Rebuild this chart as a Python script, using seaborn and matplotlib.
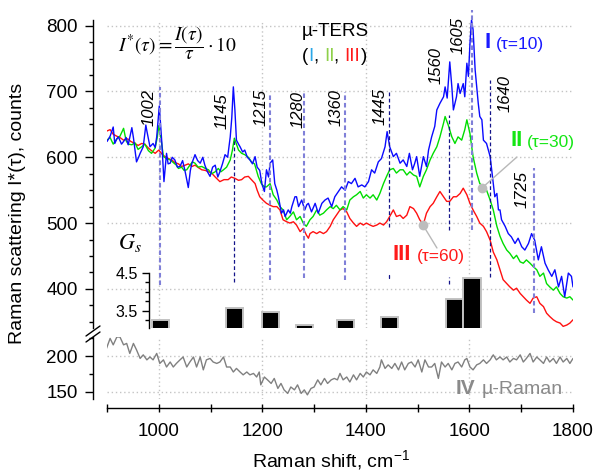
import matplotlib
matplotlib.use('Agg')
import matplotlib.pyplot as plt
import seaborn as sns
import pandas as pd
from matplotlib.lines import Line2D
from matplotlib.ticker import MultipleLocator

# ---------------- data ----------------
blue_I = [(900,624),(906,632),(909,639),(912,646),(915,621),(919,628),(922,631),(928,620),(932,624),(937,630),
          (941,619),(948,645),(951,630),(957,593),(961,600),(964,606),(970,616),(975,649),(977,640),(983,616),
          (989,621),(993,615),(996,631),(1001,678),(1006,621),(1010,563),(1015,606),(1018,590),(1022,591),(1026,600),
          (1031,596),(1036,585),(1041,586),(1046,595),(1051,578),(1057,554),(1061,580),(1064,591),(1070,604),(1075,595),
          (1080,591),(1085,600),(1089,588),(1094,578),(1099,571),(1104,585),(1109,588),(1114,570),(1118,578),(1123,590),
          (1128,604),(1133,600),(1138,631),(1141,660),(1144,707),(1147,672),(1150,626),(1154,620),(1157,616),(1162,608),
          (1166,611),(1171,600),(1176,596),(1181,590),(1186,601),(1190,585),(1195,580),(1199,560),(1204,548),(1208,581),
          (1212,570),(1215,591),(1220,596),(1224,560),(1228,550),(1231,540),(1237,515),(1241,520),(1244,510),(1250,520),
          (1254,515),(1257,525),(1263,540),(1266,540),(1270,525),(1276,535),(1282,520),(1286,528),(1289,530),(1295,517),
          (1302,530),(1308,515),(1315,530),(1321,535),(1327,538),(1334,525),(1340,540),(1347,548),(1353,555),(1360,550),
          (1366,563),(1372,560),(1379,568),(1385,555),(1392,558),(1398,555),(1405,563),(1411,581),(1417,576),(1424,593),
          (1430,598),(1437,616),(1441,639),(1446,616),(1453,601),(1459,606),(1466,591),(1472,596),(1479,586),(1484,606),
          (1490,581),(1494,590),(1498,601),(1504,571),(1511,601),(1517,586),(1521,611),(1527,631),(1533,647),(1537,672),
          (1543,682),(1550,692),(1553,707),(1557,690),(1562,745),(1566,707),(1569,672),(1575,692),(1578,712),(1582,697),
          (1588,712),(1591,692),(1595,743),(1598,723),(1601,773),(1604,809),(1607,794),(1611,733),(1614,707),(1617,682),
          (1620,662),(1624,657),(1627,626),(1633,621),(1640,601),(1643,581),(1646,560),(1649,540),(1653,545),(1656,520),
          (1659,520),(1662,505),(1669,495),(1675,484),(1681,479),(1688,469),(1694,477),(1701,464),(1707,459),(1714,469),
          (1720,484),(1726,474),(1733,444),(1739,464),(1746,439),(1752,429),(1759,419),(1765,429),(1772,403),(1778,419),
          (1784,388),(1791,424),(1797,419),(1800,403)]

green_II = [(900,626),(906,630),(912,620),(919,628),(925,632),(932,644),(937,625),(941,620),(948,619),(954,622),
            (960,612),(967,616),(973,620),(980,610),(986,606),(993,614),(997,630),(1000,648),(1004,630),(1009,601),
            (1015,598),(1022,596),(1028,592),(1034,588),(1038,583),(1044,585),(1049,580),(1054,581),(1060,588),(1065,593),
            (1070,591),(1076,585),(1083,586),(1090,583),(1096,581),(1102,575),(1109,578),(1115,583),(1120,578),(1125,581),
            (1131,585),(1138,596),(1142,610),(1146,629),(1150,620),(1154,611),(1160,606),(1166,604),(1173,600),(1179,593),
            (1185,590),(1192,571),(1198,560),(1204,555),(1208,555),(1215,560),(1221,543),(1228,535),(1234,525),(1240,520),
            (1247,505),(1253,510),(1260,517),(1266,505),(1273,510),(1279,500),(1285,495),(1292,505),(1298,510),(1305,520),
            (1311,512),(1318,515),(1324,520),(1331,525),(1337,522),(1343,527),(1350,520),(1356,525),(1363,520),(1369,535),
            (1376,540),(1382,543),(1389,548),(1395,538),(1401,543),(1408,538),(1414,543),(1421,535),(1427,545),(1434,560),
            (1440,571),(1446,581),(1453,583),(1459,576),(1466,581),(1472,581),(1479,573),(1485,578),(1492,573),(1498,571),
            (1504,555),(1511,571),(1517,581),(1524,596),(1530,606),(1537,616),(1543,631),(1550,652),(1553,662),(1559,649),
            (1566,631),(1572,621),(1578,631),(1585,626),(1591,642),(1595,657),(1601,636),(1607,601),(1614,576),(1620,560),
            (1627,555),(1633,550),(1640,535),(1646,520),(1653,495),(1659,480),(1665,469),(1672,459),(1678,454),(1685,446),
            (1691,451),(1698,441),(1704,439),(1710,444),(1717,439),(1723,434),(1730,429),(1736,419),(1743,424),(1749,408),
            (1755,403),(1762,398),(1768,403),(1775,393),(1781,388),(1788,386),(1794,388),(1800,383)]

red_III = [(900,640),(906,642),(912,635),(919,632),(925,630),(932,626),(940,628),(946,624),(954,621),(960,618),
           (967,621),(973,620),(980,614),(986,610),(993,606),(1000,611),(1006,605),(1012,601),(1019,598),(1025,596),
           (1031,592),(1038,590),(1044,586),(1051,588),(1057,590),(1064,586),(1070,588),(1077,584),(1083,581),(1090,580),
           (1096,578),(1102,576),(1109,570),(1118,563),(1126,566),(1134,566),(1140,570),(1147,568),(1154,565),(1160,566),
           (1166,570),(1173,571),(1180,565),(1186,560),(1190,550),(1195,540),(1201,535),(1208,530),(1215,527),(1221,525),
           (1228,525),(1234,520),(1240,505),(1247,502),(1253,500),(1260,502),(1266,497),(1273,487),(1279,492),(1285,482),
           (1289,477),(1292,484),(1298,487),(1305,484),(1311,487),(1318,484),(1324,487),(1331,495),(1337,505),(1343,512),
           (1350,520),(1356,522),(1363,517),(1369,507),(1376,500),(1382,495),(1389,500),(1395,497),(1401,500),(1408,497),
           (1414,495),(1421,497),(1427,500),(1434,497),(1440,502),(1446,510),(1453,520),(1459,510),(1466,512),(1472,507),
           (1479,512),(1485,525),(1492,522),(1498,515),(1504,505),(1511,498),(1517,515),(1524,525),(1530,530),(1537,540),
           (1543,548),(1550,540),(1556,533),(1562,533),(1569,540),(1575,540),(1582,545),(1588,553),(1595,543),(1601,530),
           (1607,520),(1614,510),(1620,500),(1627,495),(1633,487),(1640,474),(1646,456),(1653,444),(1659,429),(1665,414),
           (1672,408),(1678,403),(1685,398),(1691,401),(1698,393),(1704,388),(1710,383),(1717,378),(1723,386),(1730,388),
           (1736,378),(1743,373),(1749,363),(1755,358),(1762,353),(1768,350),(1775,348),(1781,343),(1788,345),(1794,348),
           (1800,353)]

gray_IV = [(899,211),(906,225),(912,216),(919,227),(925,227),(932,216),(938,218),(944,204),(951,218),(957,209),
           (964,197),(970,202),(977,195),(983,199),(989,195),(996,204),(1002,190),(1009,195),(1015,185),(1022,192),
           (1028,185),(1034,190),(1041,195),(1047,199),(1054,185),(1060,192),(1067,199),(1073,185),(1080,199),(1086,181),
           (1092,195),(1099,197),(1105,192),(1112,190),(1118,192),(1125,199),(1131,185),(1138,185),(1144,178),(1150,183),
           (1157,178),(1163,174),(1170,178),(1176,174),(1183,176),(1189,171),(1194,178),(1197,160),(1204,171),(1210,167),
           (1217,162),(1223,169),(1230,155),(1236,162),(1242,153),(1249,148),(1255,157),(1262,153),(1268,160),(1275,148),
           (1281,153),(1287,146),(1294,155),(1300,157),(1307,167),(1313,160),(1320,169),(1326,162),(1333,167),(1339,169),
           (1345,167),(1350,176),(1356,167),(1363,171),(1369,164),(1376,174),(1382,167),(1389,176),(1395,171),(1401,178),
           (1408,174),(1414,181),(1421,176),(1427,185),(1430,195),(1437,183),(1443,188),(1450,183),(1456,190),(1463,181),
           (1469,192),(1475,181),(1482,190),(1488,192),(1495,185),(1501,195),(1508,178),(1514,195),(1521,185),(1527,185),
           (1533,190),(1540,169),(1546,192),(1553,185),(1559,190),(1566,181),(1572,190),(1578,192),(1585,185),(1591,195),
           (1595,197),(1601,185),(1607,181),(1614,188),(1620,190),(1627,195),(1633,190),(1640,195),(1646,202),(1652,195),
           (1659,199),(1665,195),(1672,199),(1678,192),(1685,197),(1691,195),(1698,202),(1704,192),(1710,197),(1717,204),
           (1723,192),(1730,199),(1736,195),(1743,190),(1749,199),(1755,192),(1762,197),(1768,190),(1775,199),(1781,192),
           (1788,197),(1794,190),(1800,197)]

band_labels = [1002, 1145, 1215, 1280, 1360, 1445, 1560, 1605, 1640, 1725]
gs_positions = [1004, 1146, 1216, 1282, 1360, 1445, 1572, 1605]
gs_values = [3.25, 3.56, 3.47, 3.12, 3.25, 3.34, 3.80, 4.375]

# ---------------- styling / layout ----------------
sns.set_theme(style='ticks')
plt.rcParams['font.family'] = ['Liberation Sans', 'DejaVu Sans']
plt.rcParams['mathtext.fontset'] = 'custom'
plt.rcParams['mathtext.rm'] = 'Liberation Sans'
plt.rcParams['mathtext.it'] = 'Liberation Sans:italic'
plt.rcParams['mathtext.bf'] = 'Liberation Sans:bold'

W, H = 595, 472
fig = plt.figure(figsize=(W / 100, H / 100), dpi=100)
fig.patch.set_facecolor('white')

def fx(px):
    return px / W

def fy(py):
    return 1 - py / H

def vtop(py):  # pixel row -> top panel counts
    return 800 - (py - 25.7) * 1.52

def wnx(px):   # pixel column -> wavenumber
    return 900 + (px - 107) * 1.931

L, R = 107, 573
ax_top = fig.add_axes([fx(L), fy(328), fx(R) - fx(L), fy(20) - fy(328)])
ax_bot = fig.add_axes([fx(L), fy(399), fx(R) - fx(L), fy(337) - fy(399)])
ax_in = fig.add_axes([fx(L), fy(328), fx(R) - fx(L), fy(273) - fy(328)])

BLUE, GREEN, RED, GRAY = '#0a0aff', '#00dd00', '#ff1010', '#808080'
GRID = '#c4c4c4'

def frame(pairs):
    return pd.DataFrame(pairs, columns=['wn', 'counts'])

# ---- grids ----
ax_top.set_facecolor('none')
for x in [1000, 1200, 1400, 1600]:
    ax_top.axvline(x, color=GRID, ls=(0, (1, 2)), lw=1, zorder=0)
    ax_bot.axvline(x, color=GRID, ls=(0, (1, 2)), lw=1, zorder=0)
for y in [400, 500, 600, 700, 800]:
    ax_top.axhline(y, color=GRID, ls=(0, (1, 2)), lw=1, zorder=0)
for y in [150, 200]:
    ax_bot.axhline(y, color=GRID, ls=(0, (1, 2)), lw=1, zorder=0)

# ---- top panel spectra ----
for pairs, col in [(red_III, RED), (green_II, GREEN), (blue_I, BLUE)]:
    sns.lineplot(data=frame(pairs), x='wn', y='counts', ax=ax_top, color=col,
                 lw=1.0, estimator=None, sort=False, zorder=2)

ax_top.set_xlim(900, 1800)
ax_top.set_ylim(vtop(328), vtop(20))
for s in ['top', 'right', 'bottom']:
    ax_top.spines[s].set_visible(False)
ax_top.spines['left'].set_position(('outward', 10))
ax_top.spines['left'].set_linewidth(1.0)
ax_top.spines['left'].set_color('black')
ax_top.set_xticks([])
ax_top.set_yticks([400, 500, 600, 700, 800])
ax_top.yaxis.set_minor_locator(MultipleLocator(25))
ax_top.tick_params(axis='y', which='major', direction='out', length=6, width=1,
                   labelsize=13.5, pad=5, color='black', labelcolor='black')
ax_top.tick_params(axis='y', which='minor', direction='out', length=3, width=1, color='black')
ax_top.set_xlabel('')
ax_top.set_ylabel('')

# dashed band markers: (band, top px, bottom px, thick)
band_lines = [(1002, 87, 285, True), (1145, 138, 282, False), (1215, 93, 280, True),
              (1280, 93, 278, True), (1360, 92, 280, True), (1445, 92, 227, False),
              (1560, 115, 230, False), (1605, 10, 230, True), (1640, 80, 277, False),
              (1725, 168, 313, True)]
for b, t, btm, thick in band_lines:
    if thick:
        ax_top.plot([b, b], [vtop(btm), vtop(t)], color='#8080d8', lw=1.5,
                    ls=(0, (2.2, 1.4)), clip_on=False, zorder=3)
    else:
        ax_top.plot([b, b], [vtop(btm), vtop(t)], color='#14148a', lw=0.9,
                    ls=(0, (3, 2)), clip_on=False, zorder=3)
ax_top.plot([1445, 1445], [vtop(278), vtop(275)], color='#14148a', lw=0.9, zorder=3)
ax_top.plot([1560, 1560], [vtop(284), vtop(277)], color='#14148a', lw=0.9,
            ls=(0, (3, 2)), zorder=3)

label_px = {1002: (149, 107), 1145: (222, 111), 1215: (261, 108), 1280: (298, 110),
            1360: (336, 108), 1445: (380, 106), 1560: (436, 65), 1605: (458, 36),
            1640: (505, 94), 1725: (522, 190)}
for b in band_labels:
    px, py = label_px[b]
    fig.text(fx(px), fy(py), str(b), rotation=90, ha='center', va='center',
             style='italic', fontsize=12, color='black')

# leader lines with gray markers
ax_top.plot([wnx(482), wnx(517)], [vtop(188), vtop(157)], color='#b8b8b8', lw=1, zorder=4)
ax_top.plot([wnx(482)], [vtop(188)], 'o', color='#bdbdbd', ms=6, zorder=5)
ax_top.plot([wnx(423), wnx(437)], [vtop(225), vtop(248)], color='#b8b8b8', lw=1, zorder=4)
ax_top.plot([wnx(423)], [vtop(225)], 'o', color='#bdbdbd', ms=6, zorder=5)

# ---- bottom panel ----
ax_bot.set_facecolor('none')
sns.lineplot(data=frame(gray_IV), x='wn', y='counts', ax=ax_bot, color=GRAY,
             lw=1.0, estimator=None, sort=False, zorder=2)
ax_bot.set_xlim(900, 1800)
ax_bot.set_ylim(140.2, 227)
for s in ['top', 'right']:
    ax_bot.spines[s].set_visible(False)
ax_bot.spines['left'].set_position(('outward', 10))
ax_bot.spines['bottom'].set_position(('outward', 6.5))
for s in ['left', 'bottom']:
    ax_bot.spines[s].set_linewidth(1.0)
    ax_bot.spines[s].set_color('black')
ax_bot.set_yticks([150, 200])
ax_bot.yaxis.set_minor_locator(MultipleLocator(25))
ax_bot.set_xticks([1000, 1200, 1400, 1600, 1800])
ax_bot.set_xticks([900, 1100, 1300, 1500, 1700], minor=True)
ax_bot.tick_params(axis='y', which='major', direction='out', length=6, width=1,
                   labelsize=13.5, pad=5, color='black', labelcolor='black')
ax_bot.tick_params(axis='y', which='minor', direction='out', length=3, width=1, color='black')
ax_bot.tick_params(axis='x', which='both', direction='inout', length=6, width=1,
                   labelsize=13.5, pad=8, color='black', labelcolor='black')
ax_bot.set_xlabel('')
ax_bot.set_ylabel('')

# ---- inset Gs bars ----
ax_in.patch.set_visible(False)
ax_in.bar(gs_positions, gs_values, width=33, color='black', edgecolor='#c2c2c2', lw=1.4, zorder=2)
ax_in.set_xlim(900, 1800)
ax_in.set_ylim(3.04, 4.5)
for s in ['top', 'right', 'bottom']:
    ax_in.spines[s].set_visible(False)
ax_in.spines['left'].set_position(('data', 981))
ax_in.spines['left'].set_linewidth(1.0)
ax_in.spines['left'].set_color('black')
ax_in.set_xticks([])
ax_in.set_yticks([3.5, 4.5])
ax_in.set_yticklabels(['3.5', '4.5'])
ax_in.yaxis.set_minor_locator(MultipleLocator(0.25))
ax_in.tick_params(axis='y', which='major', direction='out', length=5, width=1,
                  labelsize=11.5, pad=3, color='black', labelcolor='black')
ax_in.tick_params(axis='y', which='minor', direction='out', length=3, width=1, color='black')

# ---- axis break marks ----
for dy in (0, 6):
    fig.add_artist(Line2D([fx(86), fx(100)], [fy(336 + dy), fy(326 + dy)],
                          color='black', lw=1.0, transform=fig.transFigure))

# ---- texts ----
fig.text(fx(18), fy(213), 'Raman scattering I*(τ), counts', rotation=90,
         ha='center', va='center', fontsize=14, color='black')
fig.text(fx(331), fy(460), r'Raman shift, cm$^{-1}$', ha='center', va='center',
         fontsize=14, color='black')
fig.text(fx(177), fy(43), r'$I^{*}(\tau) = \dfrac{I(\tau)}{\tau}\cdot 10$',
         ha='center', va='center', fontsize=14, math_fontfamily='stix', color='black')
fig.text(fx(130), fy(243), r'$G_s$', ha='center', va='center', fontsize=16,
         math_fontfamily='stix', color='black')

fig.text(fx(335), fy(31), 'µ-TERS', ha='center', va='center', fontsize=13.5, color='black')
prev = fig.text(fx(302), fy(65), '(', ha='left', va='bottom', fontsize=13.5, color='black')
for piece, col in [('I', '#2aa7e8'), (', ', 'black'), ('II', '#8ed04a'), (', ', 'black'),
                   ('III', '#ff1a1a'), (')', 'black')]:
    prev = ax_top.annotate(piece, xy=(1, 0), xycoords=prev, ha='left', va='bottom',
                           fontsize=13.5, color=col, annotation_clip=False)

# series labels
fig.text(fx(484), fy(43), 'I', weight='bold', fontsize=16, color='#1a1aff', ha='left', va='center')
fig.text(fx(496), fy(45), '(τ=10)', fontsize=12.5, color='#1a1aff', ha='left', va='center')
fig.text(fx(510), fy(141), 'II', weight='bold', fontsize=16, color='#14e614', ha='left', va='center')
fig.text(fx(527), fy(143), '(τ=30)', fontsize=12.5, color='#14e614', ha='left', va='center')
fig.text(fx(392), fy(255), 'III', weight='bold', fontsize=16, color='#ff1a1a', ha='left', va='center')
fig.text(fx(417), fy(256), '(τ=60)', fontsize=12.5, color='#ff1a1a', ha='left', va='center')
fig.text(fx(456), fy(388), 'IV', weight='bold', fontsize=15, color='#8a8a8a', ha='left', va='center')
fig.text(fx(482), fy(389), 'µ-Raman', fontsize=14, color='#8a8a8a', ha='left', va='center')

fig.savefig('out.png', dpi=100, facecolor='white')
